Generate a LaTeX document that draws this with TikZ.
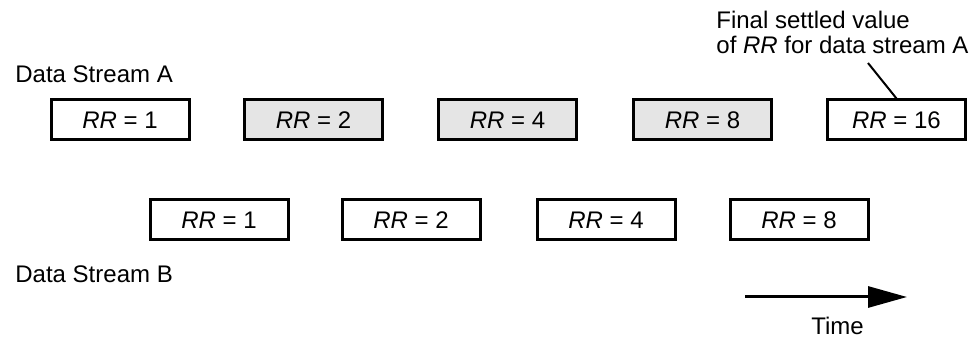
\documentclass[tikz,border=0pt]{standalone}
\usepackage{fontspec}
\setmainfont{Liberation Sans}
\usetikzlibrary{arrows.meta}
\begin{document}
\begin{tikzpicture}[x=0.5pt,y=-0.5pt,
  rrbox/.style={draw, line width=1.5pt, minimum width=69pt, minimum height=20pt,
    inner sep=0pt, font=\fontsize{12}{14}\selectfont},
  shaded/.style={rrbox, fill=black!10},
  txt/.style={font=\fontsize{12}{12.5}\selectfont, inner sep=0pt}]
  \useasboundingbox (0,0) rectangle (980,341);

  % stream labels
  \node[txt, anchor=base west] (lblA) at (15,83) {Data Stream A};
  \node[txt, anchor=base west] (lblB) at (15,283) {Data Stream B};

  % data stream A
  \node[rrbox]  (a1) at (120,120)   {\textit{RR} = 1};
  \node[shaded] (a2) at (313.5,120) {\textit{RR} = 2};
  \node[shaded] (a3) at (507.5,120) {\textit{RR} = 4};
  \node[shaded] (a4) at (702.5,120) {\textit{RR} = 8};
  \node[rrbox]  (a5) at (896.5,120) {\textit{RR} = 16};

  % data stream B
  \node[rrbox] (b1) at (219,220) {\textit{RR} = 1};
  \node[rrbox] (b2) at (411,220) {\textit{RR} = 2};
  \node[rrbox] (b3) at (606,220) {\textit{RR} = 4};
  \node[rrbox] (b4) at (799,220) {\textit{RR} = 8};

  % annotation of the final value
  \node[txt, anchor=north west, align=left] (note) at (716,10.5)
    {Final settled value\\of \textit{RR} for data stream A};
  \coordinate (lead) at (868,63);
  \draw[line width=1pt] (lead) -- (a5.north);

  % time axis
  \coordinate (t0) at (745,297);
  \coordinate (t1) at (907,297);
  \draw[line width=1.5pt, -{Triangle[length=19.5pt,width=10.5pt]}] (t0) -- (t1);
  \node[txt, anchor=base] (time) at (837.5,335) {Time};
\end{tikzpicture}
\end{document}
